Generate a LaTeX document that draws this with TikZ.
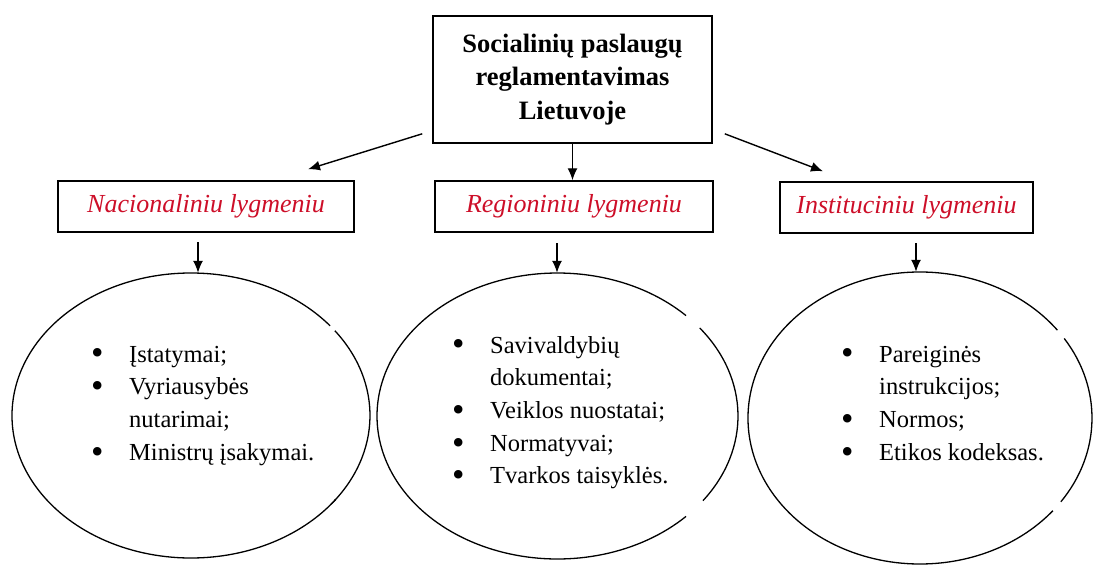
\documentclass[tikz,border=0pt]{standalone}
\usepackage{fontspec}
\setmainfont{Liberation Serif}
\usetikzlibrary{arrows.meta,shapes.geometric,calc}
\definecolor{lvlred}{RGB}{205,14,40}
\newcommand\itb{\makebox[38pt][l]{\raisebox{-0.12em}{\scalebox{1.45}{\textbullet}}}}
\newcommand\ovarc[5]{\draw[ring] ($(#1.center)+(#4:#2pt and #3pt)$) arc[start angle=#4, end angle=#5, x radius=#2pt, y radius=#3pt];}
\begin{document}
\begin{tikzpicture}[x=1pt,y=1pt,
  topbox/.style={draw, line width=1.6pt, minimum width=279pt, minimum height=127pt, inner sep=0pt, align=center, font=\fontsize{26.5}{33.5}\selectfont\bfseries},
  lvlbox/.style={draw, line width=1.5pt, minimum height=51pt, inner sep=0pt, font=\fontsize{26}{30}\selectfont\itshape, text=lvlred},
  oval/.style={ellipse, inner sep=0pt},
  arr/.style={line width=1.4pt, -{Latex[length=12pt,width=10pt]}},
  ring/.style={line width=1.3pt},
  items/.style={anchor=base west, inner sep=0pt, font=\fontsize{24.5}{32.7}\selectfont}
]
\useasboundingbox (0,0) rectangle (1093,-566);

% top box
\node[topbox] (top) at (572.5,-79.5) {Socialinių paslaugų\\reglamentavimas\\Lietuvoje};

% level boxes
\node[lvlbox, minimum width=296pt] (l1) at (206,-206.5) {Nacionaliniu lygmeniu};
\node[lvlbox, minimum width=278pt] (l2) at (574,-206.5) {Regioniniu lygmeniu};
\node[lvlbox, minimum width=253pt] (l3) at (906.5,-207.5) {Instituciniu lygmeniu};

% ellipses
\node[oval, minimum width=358pt, minimum height=285pt] (e1) at (191,-415.5) {};
\node[oval, minimum width=361pt, minimum height=286pt] (e2) at (557.5,-416) {};
\node[oval, minimum width=344pt, minimum height=292pt] (e3) at (920,-418) {};
\ovarc{e1}{179}{142.5}{39}{324}
\ovarc{e1}{179}{142.5}{-38.5}{36.5}
\ovarc{e2}{180.5}{143}{44.6}{315.4}
\ovarc{e2}{180.5}{143}{-36.3}{38}
\ovarc{e3}{172}{146}{37}{320.6}
\ovarc{e3}{172}{146}{-35}{33}

% ellipse texts
\node[items] (t1) at (91,-362) {\begin{tabular}[t]{@{}l@{}l@{}}\itb & Įstatymai;\\ \itb & Vyriausybės\\ & nutarimai;\\ \itb & Ministrų įsakymai.\end{tabular}};
\node[items] (t2) at (452,-353) {\begin{tabular}[t]{@{}l@{}l@{}}\itb & Savivaldybių\\ & dokumentai;\\ \itb & Veiklos nuostatai;\\ \itb & Normatyvai;\\ \itb & Tvarkos taisyklės.\end{tabular}};
\node[items] (t3) at (841,-362) {\begin{tabular}[t]{@{}l@{}l@{}}\itb & Pareiginės\\ & instrukcijos;\\ \itb & Normos;\\ \itb & Etikos kodeksas.\end{tabular}};

% connectors from top box
\coordinate (a1s) at ($(top.south west)+(-10,10)$);
\coordinate (a1e) at ($(l1.north)+(102,11)$);
\coordinate (a3s) at ($(top.south east)+(12,10)$);
\coordinate (a3e) at ($(l3.north)+(-83.5,10)$);
\draw[arr] (a1s) -- (a1e);
\draw[arr] (top.south) -- (top.south |- l2.north);
\draw[arr] (a3s) -- (a3e);

% connectors to ellipses
\coordinate (b1s) at (198,-242);
\coordinate (b2s) at (557,-243);
\coordinate (b3s) at (916,-243);
\draw[arr] (b1s) -- (b1s |- e1.north);
\draw[arr] (b2s) -- (b2s |- e2.north);
\draw[arr] (b3s) -- (b3s |- e3.north);
\end{tikzpicture}
\end{document}
